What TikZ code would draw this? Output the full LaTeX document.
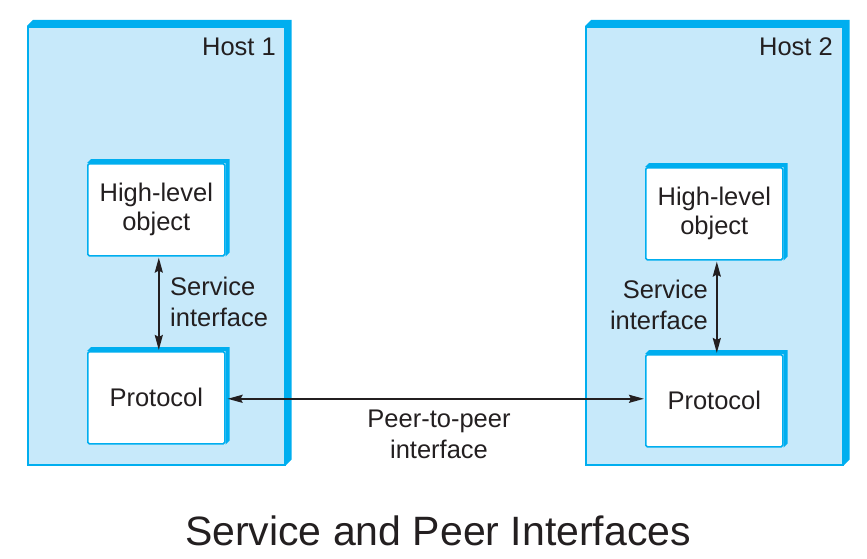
\documentclass[tikz,border=0pt]{standalone}
\usepackage{fontspec}
\setmainfont{Liberation Sans}
\usetikzlibrary{arrows.meta,calc}
\definecolor{facec}{HTML}{C7E9FA}
\definecolor{bordc}{HTML}{00AEEF}
\definecolor{inkc}{HTML}{231F20}
\tikzset{
  hostface/.style={draw=bordc, fill=facec, line width=1.6pt, inner sep=0pt, anchor=north west,
    minimum width=257pt, minimum height=438pt},
  objface/.style={draw=bordc, fill=white, line width=1.6pt, inner sep=0pt, anchor=north west,
    minimum width=137pt, minimum height=92pt, rounded corners=1.5pt,
    font=\fontsize{25.5}{29}\selectfont, text=inkc, align=center},
  lbl/.style={font=\fontsize{25.5}{31}\selectfont, text=inkc, inner sep=0pt},
  conn/.style={draw=inkc, line width=2pt, {Stealth[length=15pt,width=8pt,inset=2pt]}-{Stealth[length=15pt,width=8pt,inset=2pt]}},
}
\newcommand{\extrude}[2]{%
  \fill[bordc] (#1.north west) -- ($(#1.north west)+(#2,-#2)$) -- ($(#1.north east)+(#2,-#2)$)
    -- ($(#1.south east)+(#2,-#2)$) -- (#1.south east) -- (#1.north east) -- cycle;}
\begin{document}
\begin{tikzpicture}[x=1pt,y=-1pt]
\useasboundingbox (0,0) rectangle (867,559);
% hosts
\node[hostface] (h1) at (27,26) {};
\extrude{h1}{6}
\node[hostface] (h2) at (585,26) {};
\extrude{h2}{6}
\node[lbl, anchor=east] (h1l) at (276,47) {Host 1};
\node[lbl, anchor=east] (h2l) at (833,47) {Host 2};
% inner boxes
\node[objface] (hl1) at (87,163) {High-level\\object};
\extrude{hl1}{4}
\node[objface] (pr1) at (87,351) {Protocol};
\extrude{pr1}{4}
\node[objface] (hl2) at (645,167) {High-level\\object};
\extrude{hl2}{4}
\node[objface] (pr2) at (645,354) {Protocol};
\extrude{pr2}{4}
% connectors
\draw[conn] ([xshift=2.5pt,yshift=-1pt]hl1.south) -- ([xshift=2.5pt,yshift=1pt]pr1.north);
\draw[conn] ([xshift=2.5pt,yshift=-1pt]hl2.south) -- ([xshift=2.5pt,yshift=1pt]pr2.north);
\draw[conn] ([xshift=2pt,yshift=-1pt]pr1.east) -- ([xshift=-1pt,yshift=-1pt]pr1.east -| pr2.west);
% labels
\node[lbl, anchor=west, align=left] (si1) at (170,302) {Service\\interface};
\node[lbl, anchor=east, align=right] (si2) at (708,305) {Service\\interface};
\node[lbl, align=center] (p2p) at (439,434) {Peer-to-peer\\interface};
\node[text=inkc, font=\fontsize{41}{49}\selectfont, inner sep=0pt] (title) at (438,531) {Service and Peer Interfaces};
\end{tikzpicture}
\end{document}
